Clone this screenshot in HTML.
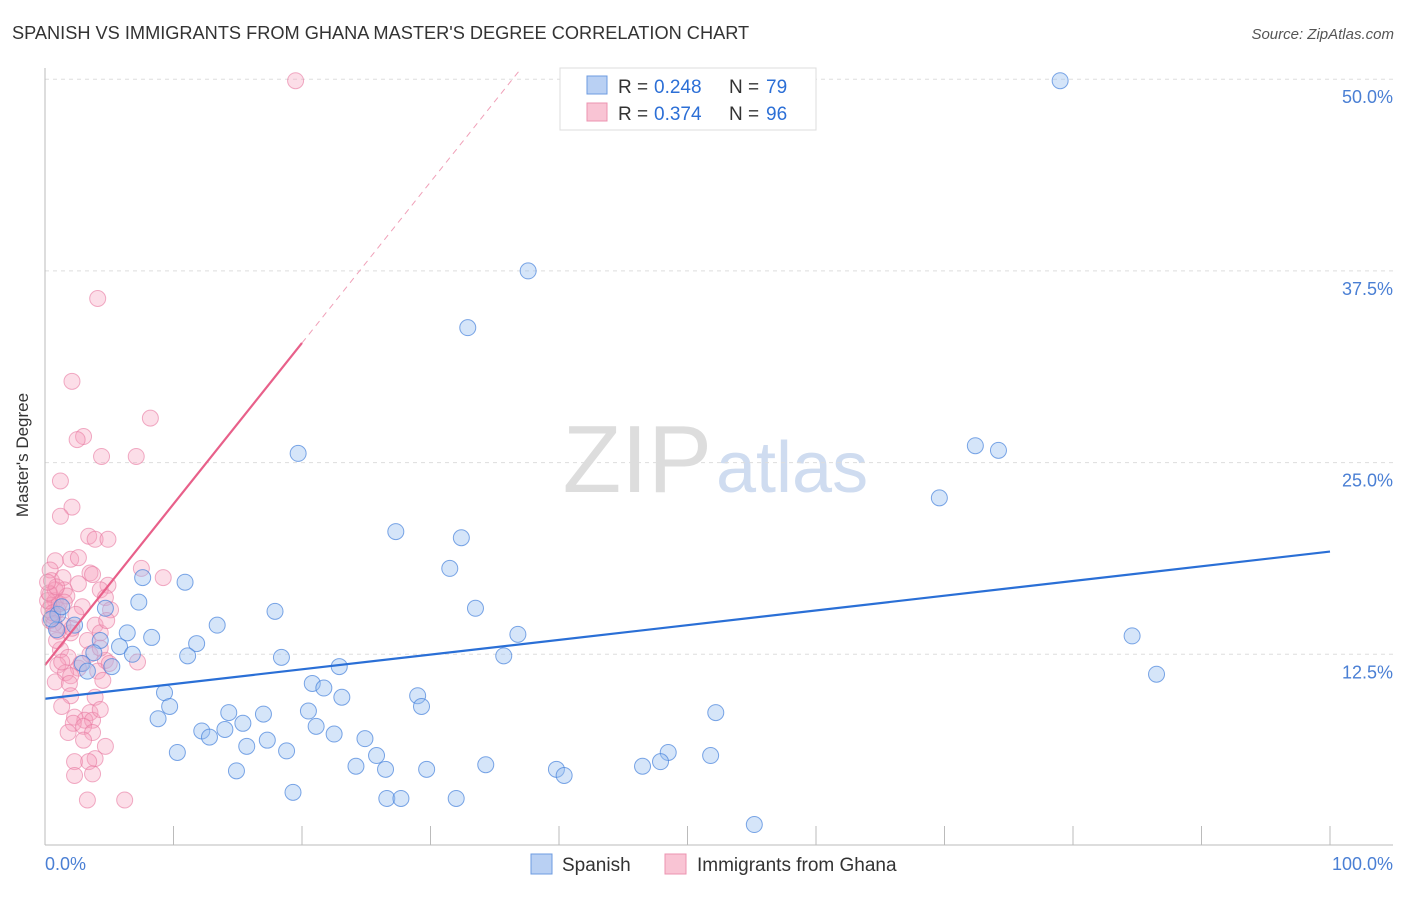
<!DOCTYPE html>
<html><head><meta charset="utf-8"><style>
body{margin:0;background:#fff;font-family:"Liberation Sans",sans-serif;}
svg text{font-family:"Liberation Sans",sans-serif;}
</style></head><body>
<svg id="chart" width="1406" height="892" xmlns="http://www.w3.org/2000/svg">
<text x="12" y="39" font-size="18.2" fill="#333">SPANISH VS IMMIGRANTS FROM GHANA MASTER'S DEGREE CORRELATION CHART</text>
<text x="1394" y="39" font-size="15" fill="#555" text-anchor="end" font-style="italic">Source: ZipAtlas.com</text>
<text x="712" y="492" font-size="96" fill="#ddd" text-anchor="end" font-family="Liberation Serif">ZIP</text>
<text x="716" y="492" font-size="72" fill="#cfdcf0">atlas</text>
<g id="grid"></g>
<g id="marks"></g>
<line x1="45" y1="68" x2="45" y2="845" stroke="#bbb"/>
<line x1="45" y1="845" x2="1393" y2="845" stroke="#bbb"/>
<text x="28" y="455" font-size="17" fill="#333" text-anchor="middle" transform="rotate(-90 28 455)">Master's Degree</text>
<text x="45" y="870" font-size="18" fill="#4a7fd4">0.0%</text>
<text x="1393" y="870" font-size="18" fill="#4a7fd4" text-anchor="end">100.0%</text>
<g>
<rect x="560" y="68" width="256" height="62" fill="#fff" stroke="#ddd"/>
<rect x="587" y="76" width="20" height="18" fill="#b9d0f3" stroke="#6d9be0"/>
<rect x="587" y="103" width="20" height="18" fill="#f9c4d4" stroke="#ec93b0"/>
<text x="618" y="93" font-size="19" fill="#333">R =</text>
<text x="654" y="93" font-size="19" fill="#2c6fd6">0.248</text>
<text x="729" y="93" font-size="19" fill="#333">N =</text>
<text x="766" y="93" font-size="19" fill="#2c6fd6">79</text>
<text x="618" y="120" font-size="19" fill="#333">R =</text>
<text x="654" y="120" font-size="19" fill="#2c6fd6">0.374</text>
<text x="729" y="120" font-size="19" fill="#333">N =</text>
<text x="766" y="120" font-size="19" fill="#2c6fd6">96</text>
</g>
<g>
<rect x="531" y="854" width="21" height="20" fill="#b9d0f3" stroke="#6d9be0"/>
<text x="562" y="871" font-size="19" fill="#333">Spanish</text>
<rect x="665" y="854" width="21" height="20" fill="#f9c4d4" stroke="#ec93b0"/>
<text x="697" y="871" font-size="19" fill="#333">Immigrants from Ghana</text>
</g>
</svg>
<script>
const yTicks=[12.5,25,37.5,50];
const yTickLabels=["12.5%","25.0%","37.5%","50.0%"];
const xTickVals=[10,20,30,40,50,60,70,80,90,100];
const blueX=[79.0,37.6,32.9,19.7,72.4,74.2,69.6,27.3,32.4,31.5,7.6,10.9,33.5,7.3,17.9,4.7,13.4,2.3,6.4,8.3,36.8,84.6,4.3,11.8,5.8,3.8,6.8,11.1,35.7,18.4,2.9,5.2,22.9,3.3,86.5,20.8,21.7,9.3,23.1,29.0,9.7,29.3,20.5,14.3,52.2,17.0,8.8,15.4,21.1,14.0,12.2,12.8,22.5,24.9,17.3,15.7,18.8,10.3,25.8,48.5,51.8,47.9,34.3,46.5,24.2,26.5,29.7,14.9,39.8,40.4,19.3,26.6,27.7,32.0,55.2,0.9,1.0,1.3,0.5];
const blueY=[49.9,37.5,33.8,25.6,26.1,25.8,22.7,20.5,20.1,18.1,17.5,17.2,15.5,15.9,15.3,15.5,14.4,14.4,13.9,13.6,13.8,13.7,13.4,13.2,13.0,12.6,12.5,12.4,12.4,12.3,11.9,11.7,11.7,11.4,11.2,10.6,10.3,10.0,9.7,9.8,9.1,9.1,8.8,8.7,8.7,8.6,8.3,8.0,7.8,7.6,7.5,7.1,7.3,7.0,6.9,6.5,6.2,6.1,5.9,6.1,5.9,5.5,5.3,5.2,5.2,5.0,5.0,4.9,5.0,4.6,3.5,3.1,3.1,3.1,1.4,14.1,15.1,15.6,14.8];
const pinkX=[19.5,4.1,2.1,8.2,3.0,2.5,4.4,7.1,1.2,2.1,1.2,3.4,3.9,4.9,7.5,9.2,0.8,2.0,2.6,0.4,0.5,1.4,3.5,3.7,2.6,1.5,0.4,0.8,4.9,4.3,4.7,0.5,1.0,2.9,5.1,0.4,1.4,2.0,3.9,4.3,3.3,1.2,3.5,1.8,4.7,7.2,1.0,2.6,1.6,4.1,2.0,0.8,1.9,4.5,3.9,2.0,1.3,2.3,3.5,3.1,3.7,2.2,3.0,1.8,3.7,3.0,4.7,3.9,2.3,3.4,3.7,2.3,3.3,6.2,5.0,4.3,0.9,2.1,0.8,0.3,0.2,4.8,4.3,0.6,1.1,1.7,0.3,2.4,0.7,1.5,0.9,0.2,1.3,2.8,0.6,1.0];
const pinkY=[49.9,35.7,30.3,27.9,26.7,26.5,25.4,25.4,23.8,22.1,21.5,20.2,20.0,20.0,18.1,17.5,18.6,18.7,18.8,18.0,17.3,17.5,17.8,17.7,17.1,16.7,16.4,16.0,17.0,16.7,16.2,15.7,15.4,15.6,15.4,14.7,14.4,13.9,14.4,13.9,13.4,12.8,12.5,12.3,12.1,12.0,11.8,11.6,11.3,11.4,11.1,10.7,10.6,10.8,9.7,9.8,9.1,8.4,8.7,8.2,8.2,8.0,7.8,7.4,7.4,6.9,6.5,5.7,5.5,5.5,4.7,4.6,3.0,3.0,11.9,12.9,13.4,14.2,16.7,15.4,16.0,14.7,8.9,15.0,15.8,16.3,16.5,15.1,14.5,15.9,16.9,17.2,12.0,11.9,15.2,14.0];
const blueLine=[9.6,19.2];
const pinkLine=[11.8,32.8];
const X0=45,X1=1330,YB=846,YPX=191.7/12.5;
const xs=v=>X0+(X1-X0)*v/100, ys=v=>YB-v*YPX;
const NS="http://www.w3.org/2000/svg";
const grid=document.getElementById('grid'), marks=document.getElementById('marks');
function mk(tag,attrs,parent){const e=document.createElementNS(NS,tag);for(const k in attrs)e.setAttribute(k,attrs[k]);parent.appendChild(e);return e;}
yTicks.forEach((t,i)=>{
  const l=mk('line',{x1:45,x2:1393,y1:ys(t),y2:ys(t),stroke:'#ddd','stroke-dasharray':'4,4'},grid);
  
  
  const tx=mk('text',{x:1393,y:ys(t)+24,'font-size':18,fill:'#4a7fd4','text-anchor':'end'},grid);
  tx.textContent=yTickLabels[i];
  
  
});
xTickVals.forEach(t=>{
  const l=mk('line',{x1:xs(t),x2:xs(t),y1:826,y2:845,stroke:'#bbb'},grid);
  
  
});
pinkX.forEach((x,i)=>{
  const c=mk('circle',{cx:xs(x),cy:ys(pinkY[i]),r:8,fill:'rgba(246,160,190,0.35)',stroke:'rgba(232,120,160,0.6)','stroke-width':1},marks);
  
  
});
blueX.forEach((x,i)=>{
  const c=mk('circle',{cx:xs(x),cy:ys(blueY[i]),r:8,fill:'rgba(150,190,240,0.4)',stroke:'rgba(70,130,220,0.7)','stroke-width':1},marks);
  
  
});
const bl=mk('line',{x1:xs(0),y1:ys(blueLine[0]),x2:xs(100),y2:ys(blueLine[1]),stroke:'#2a6fd6','stroke-width':2.2},marks);


const slope=(pinkLine[1]-pinkLine[0])/20;
const xe=(50.6-pinkLine[0])/slope;
const pl=mk('line',{x1:xs(0),y1:ys(pinkLine[0]),x2:xs(20),y2:ys(pinkLine[1]),stroke:'#e8608a','stroke-width':2.2},marks);


const pd=mk('line',{x1:xs(20),y1:ys(pinkLine[1]),x2:xs(xe),y2:ys(pinkLine[0]+slope*xe),stroke:'#f0a0b8','stroke-width':1,'stroke-dasharray':'6,5'},marks);


</script>
</body></html>
